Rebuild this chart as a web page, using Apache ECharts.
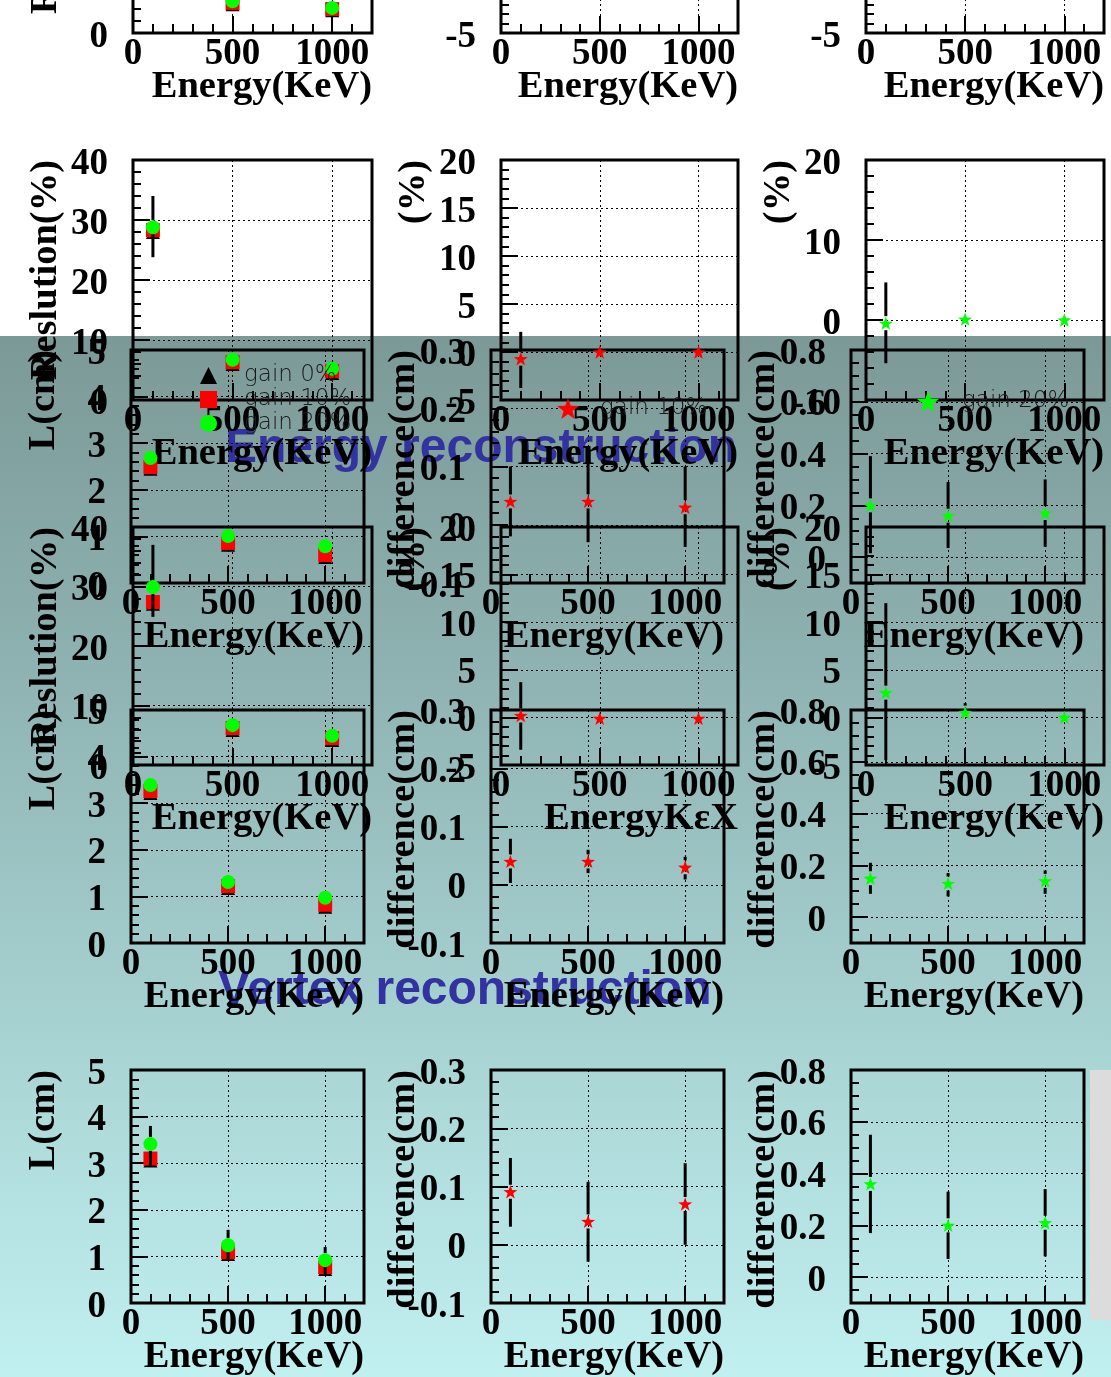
<!DOCTYPE html>
<html>
<head>
<meta charset="utf-8">
<script src="https://cdn.jsdelivr.net/npm/echarts@6/dist/echarts.min.js"></script>
<style>
  html, body { margin: 0; padding: 0; background: #ffffff; }
  #chart { width: 1111px; height: 1377px; }
</style>
</head>
<body>
<div id="chart"></div>
<script>
// ---------------- data ----------------
const energies = [100, 500, 1000];          // KeV
const energyTicks = [0, 500, 1000];

const resTicks = [0, 10, 20, 30, 40];
const diffTicks5 = [-5, 0, 5, 10, 15, 20];
const diffTicks10 = [-10, 0, 10, 20];
const lenTicks = [0, 1, 2, 3, 4, 5];
const dcmTicksA = [-0.1, 0, 0.1, 0.2, 0.3];
const dcmTicksB = [0, 0.2, 0.4, 0.6, 0.8];

// energy resolution (%) : gain 0%, 10%, 20% and error band of gain 20%
const resTopG0 = [28.5, 4.8, 3.8];
const resTopG10 = [28.8, 5.0, 4.0];
const resTopG20 = [29.2, 5.3, 4.2];
const resTopLo = [24.2, 5.0, 4.0];
const resTopHi = [34.2, 5.6, 4.4];

const resMidG0 = [28.0, 6.0, 4.5];
const resMidG10 = [28.3, 6.3, 4.8];
const resMidG20 = [28.8, 6.7, 5.2];
const resMidLo = [23.8, 6.4, 4.9];
const resMidHi = [34.0, 7.0, 5.5];

const resLowG0 = [27.1, 5.9, 4.2];
const resLowG10 = [27.4, 6.2, 4.5];
const resLowG20 = [29.9, 6.7, 4.9];
const resLowLo = [24.9, 6.4, 4.6];
const resLowHi = [37.0, 7.0, 5.2];

// energy relative difference (%) for gain 10%
const eDiff10Top = [0.2, -0.1, -0.1];
const eDiff10TopLo = [-1.4, -0.4, -0.4];
const eDiff10TopHi = [3.7, 0.2, 0.2];
const eDiff10Mid = [-0.7, 0.0, 0.0];
const eDiff10MidLo = [-3.75, -0.3, -0.3];
const eDiff10MidHi = [2.1, 0.3, 0.3];
const eDiff10Low = [0.2, -0.1, -0.1];
const eDiff10LowLo = [-3.4, -0.4, -0.4];
const eDiff10LowHi = [3.7, 0.2, 0.2];

// energy relative difference (%) for gain 20%
const eDiff20Top = [2.6, 0.5, 0.0];
const eDiff20TopLo = [-1.4, 0.0, -0.3];
const eDiff20TopHi = [12.0, 1.5, 0.3];
const eDiff20Mid = [-0.4, 0.1, 0.0];
const eDiff20MidLo = [-5.4, -0.3, -0.3];
const eDiff20MidHi = [4.7, 0.5, 0.3];
const eDiff20Low = [2.6, 0.5, 0.0];
const eDiff20LowLo = [-4.5, 0.0, -0.3];
const eDiff20LowHi = [12.0, 1.5, 0.3];

// vertex resolution L (cm)
const lenAG0 = [2.45, 0.82, 0.56];
const lenAG10 = [2.49, 0.86, 0.60];
const lenAG20 = [2.68, 1.01, 0.79];
const lenBG0 = [3.22, 1.18, 0.78];
const lenBG10 = [3.26, 1.22, 0.82];
const lenBG20 = [3.39, 1.31, 0.97];
const lenCG0 = [3.06, 1.05, 0.73];
const lenCG10 = [3.10, 1.09, 0.77];
const lenCG20 = [3.41, 1.24, 0.92];
const lenCLo = [2.95, 0.95, 0.62];
const lenCHi = [3.80, 1.57, 1.20];

// vertex difference (cm), gain 10%
const vDiff10A = [0.040, 0.040, 0.030];
const vDiff10ALo = [-0.020, -0.030, -0.038];
const vDiff10AHi = [0.100, 0.108, 0.100];
const vDiff10B = [0.040, 0.040, 0.030];
const vDiff10BLo = [0.003, 0.020, 0.009];
const vDiff10BHi = [0.079, 0.060, 0.048];
const vDiff10C = [0.091, 0.040, 0.070];
const vDiff10CLo = [0.031, -0.029, 0.000];
const vDiff10CHi = [0.149, 0.108, 0.140];

// vertex difference (cm), gain 20%
const vDiff20A = [0.20, 0.16, 0.17];
const vDiff20ALo = [0.015, 0.035, 0.04];
const vDiff20AHi = [0.39, 0.29, 0.30];
const vDiff20B = [0.15, 0.13, 0.14];
const vDiff20BLo = [0.09, 0.08, 0.09];
const vDiff20BHi = [0.21, 0.17, 0.18];
const vDiff20C = [0.36, 0.20, 0.21];
const vDiff20CLo = [0.17, 0.07, 0.08];
const vDiff20CHi = [0.55, 0.33, 0.34];

// ---------------- styling ----------------
const SERIF = '"Liberation Serif","Times New Roman",serif';
const SANS = '"Liberation Sans",Arial,sans-serif';
const STAR = 'path://M0,-10L2.35,-3.24L9.51,-3.09L3.8,1.24L5.88,8.09L0,4L-5.88,8.09L-3.8,1.24L-9.51,-3.09L-2.35,-3.24Z';
const RED = '#ff0000', GREEN = '#00ff00', BLACK = '#000000';
const labelFont = { color: '#000', fontFamily: SERIF, fontWeight: 'bold', fontSize: 37 };
const titleFont = { color: '#000', fontFamily: SERIF, fontWeight: 'bold', fontSize: 38.5 };
const tickLine = { color: '#000', width: 2 };
const gridLine = { color: '#000', width: 1, type: [2, 3] };

const grids = [], xAxes = [], yAxes = [], series = [];

function pts(ys) { return energies.map((e, i) => [e, ys[i]]); }
function bars(ys, lo, hi) { return energies.map((e, i) => [e, ys[i], lo[i], hi[i]]); }

function errorBar(gap) {
  return function (params, api) {
    const x = api.value(0);
    const c = api.coord([x, api.value(1)]);
    const lo = api.coord([x, api.value(2)]);
    const hi = api.coord([x, api.value(3)]);
    const st = { stroke: '#000', lineWidth: 3 };
    const kids = [];
    if (hi[1] < c[1] - gap) kids.push({ type: 'line', shape: { x1: c[0], y1: hi[1], x2: c[0], y2: c[1] - gap }, style: st });
    if (lo[1] > c[1] + gap) kids.push({ type: 'line', shape: { x1: c[0], y1: c[1] + gap, x2: c[0], y2: lo[1] }, style: st });
    return { type: 'group', children: kids };
  };
}

// one framed panel: grid + minor/major axes on both sides
function addPanel(p) {
  const gi = grids.length;
  grids.push({
    left: p.left, top: p.top, width: p.width, height: p.height,
    show: true, borderColor: '#000', borderWidth: 3, backgroundColor: 'transparent',
    containLabel: false, outerBoundsMode: 'none', z: 2
  });
  const xMinor = xAxes.length;
  xAxes.push({
    gridIndex: gi, type: 'value', position: 'bottom', offset: 0, min: 0, max: 1200, interval: 100,
    axisLine: { show: false, onZero: false },
    axisTick: { show: true, inside: true, length: 9, lineStyle: tickLine },
    axisLabel: { show: false }, splitLine: { show: false }, z: 3
  });
  xAxes.push({
    gridIndex: gi, type: 'value', position: 'bottom', offset: 0, min: 0, max: 1200, interval: 500,
    axisLine: { show: false, onZero: false },
    axisTick: { show: true, inside: true, length: 17, customValues: energyTicks, lineStyle: tickLine },
    axisLabel: Object.assign({ customValues: energyTicks, margin: 3, showMinLabel: true, showMaxLabel: true,
      hideOverlap: false, formatter: v => String(v) }, labelFont),
    splitLine: { show: true, lineStyle: gridLine },
    name: p.xTitle, nameLocation: 'end', nameGap: 0, nameMoveOverlap: false,
    nameTextStyle: Object.assign({ align: 'right', verticalAlign: 'top', padding: [35, 0, 0, 0] }, titleFont),
    z: 3
  });
  yAxes.push({
    gridIndex: gi, type: 'value', position: 'left', offset: 0, min: p.yMin, max: p.yMax, interval: p.yMinor,
    axisLine: { show: false, onZero: false },
    axisTick: { show: true, inside: true, length: 8, lineStyle: tickLine },
    axisLabel: { show: false }, splitLine: { show: false }, z: 3
  });
  const yMajor = yAxes.length;
  yAxes.push({
    gridIndex: gi, type: 'value', position: 'left', offset: 0, min: p.yMin, max: p.yMax,
    axisLine: { show: false, onZero: false },
    axisTick: { show: true, inside: true, length: 17, customValues: p.yTicks, lineStyle: tickLine },
    axisLabel: Object.assign({ customValues: p.yTicks, margin: 25, showMinLabel: true, showMaxLabel: true,
      hideOverlap: false, verticalAlign: 'top', lineHeight: 8, formatter: v => String(v) }, labelFont),
    splitLine: { show: true, lineStyle: gridLine },
    name: p.yTitle, nameLocation: 'end', nameGap: 0, nameRotate: 90, nameMoveOverlap: false,
    nameTextStyle: Object.assign({ align: 'right', verticalAlign: 'bottom', padding: [0, 0, 67, 0] }, titleFont),
    z: 3
  });
  const axes = { xAxisIndex: xMinor + 1, yAxisIndex: yMajor };
  p.marks.forEach(m => {
    if (m.kind === 'err') {
      series.push(Object.assign({
        type: 'custom', renderItem: errorBar(m.gap), data: m.data, clip: true, silent: true, z: 7,
        encode: { x: 0, y: 1 }
      }, axes));
    } else {
      series.push(Object.assign({
        type: 'scatter', name: m.name, data: m.data, symbol: m.symbol, symbolSize: m.size,
        symbolKeepAspect: true, itemStyle: { color: m.color, opacity: 1 }, silent: true, clip: true, z: m.z
      }, axes));
    }
  });
}

function resolutionMarks(g0, g10, g20, lo, hi) {
  const marks = [
    { name: 'gain 0%', data: pts(g0), symbol: 'triangle', size: 14, color: BLACK, z: 5 },
    { name: 'gain 10%', data: pts(g10), symbol: 'rect', size: 14, color: RED, z: 6 }
  ];
  if (lo) marks.push({ kind: 'err', data: bars(g20, lo, hi), gap: 7 });
  marks.push({ name: 'gain 20%', data: pts(g20), symbol: 'circle', size: 14, color: GREEN, z: 8 });
  return marks;
}
function starMarks(name, color, ys, lo, hi) {
  return [
    { kind: 'err', data: bars(ys, lo, hi), gap: 7 },
    { name: name, data: pts(ys), symbol: STAR, size: 14, color: color, z: 8 }
  ];
}

// ---------- energy reconstruction panels (three renderings) ----------
const E_COLS = [{ left: 133, width: 239 }, { left: 501, width: 237 }, { left: 866, width: 238 }];
const energyRows = [
  { top: -206, height: 239, res: [resTopG0, resTopG10, resTopG20, resTopLo, resTopHi],
    d10: [eDiff10Top, eDiff10TopLo, eDiff10TopHi], d20: [eDiff20Top, eDiff20TopLo, eDiff20TopHi],
    d20Range: [-5, 20, 1, diffTicks5], x2Title: 'Energy(KeV)' },
  { top: 160, height: 240, res: [resMidG0, resMidG10, resMidG20, resMidLo, resMidHi],
    d10: [eDiff10Mid, eDiff10MidLo, eDiff10MidHi], d20: [eDiff20Mid, eDiff20MidLo, eDiff20MidHi],
    d20Range: [-10, 20, 2, diffTicks10], x2Title: 'Energy(KeV)' },
  { top: 527, height: 238, res: [resLowG0, resLowG10, resLowG20, resLowLo, resLowHi],
    d10: [eDiff10Low, eDiff10LowLo, eDiff10LowHi], d20: [eDiff20Low, eDiff20LowLo, eDiff20LowHi],
    d20Range: [-5, 20, 1, diffTicks5], x2Title: 'EnergyKεX' }
];

// ---------- vertex reconstruction panels (three renderings) ----------
const V_COLS = [{ left: 131, width: 233 }, { left: 491, width: 233 }, { left: 851, width: 233 }];
const vertexRows = [
  { top: 350, len: [lenAG0, lenAG10, lenAG20, null, null],
    d10: [vDiff10A, vDiff10ALo, vDiff10AHi], d20: [vDiff20A, vDiff20ALo, vDiff20AHi] },
  { top: 710, len: [lenBG0, lenBG10, lenBG20, null, null],
    d10: [vDiff10B, vDiff10BLo, vDiff10BHi], d20: [vDiff20B, vDiff20BLo, vDiff20BHi] },
  { top: 1070, len: [lenCG0, lenCG10, lenCG20, lenCLo, lenCHi],
    d10: [vDiff10C, vDiff10CLo, vDiff10CHi], d20: [vDiff20C, vDiff20CLo, vDiff20CHi] }
];

// resolution panels first so the legend picks their symbols
energyRows.forEach(r => addPanel({
  left: E_COLS[0].left, width: E_COLS[0].width, top: r.top, height: r.height,
  yMin: 0, yMax: 40, yMinor: 2, yTicks: resTicks, yTitle: 'Reslution(%)', xTitle: 'Energy(KeV)',
  marks: resolutionMarks(...r.res)
}));
vertexRows.forEach(r => addPanel({
  left: V_COLS[0].left, width: V_COLS[0].width, top: r.top, height: 233,
  yMin: 0, yMax: 5, yMinor: 0.2, yTicks: lenTicks, yTitle: 'L(cm)', xTitle: 'Energy(KeV)',
  marks: resolutionMarks(...r.len)
}));
energyRows.forEach(r => {
  addPanel({
    left: E_COLS[1].left, width: E_COLS[1].width, top: r.top, height: r.height,
    yMin: -5, yMax: 20, yMinor: 1, yTicks: diffTicks5, yTitle: '(%)', xTitle: r.x2Title,
    marks: starMarks('gain 10%', RED, ...r.d10)
  });
  addPanel({
    left: E_COLS[2].left, width: E_COLS[2].width, top: r.top, height: r.height,
    yMin: r.d20Range[0], yMax: r.d20Range[1], yMinor: r.d20Range[2], yTicks: r.d20Range[3],
    yTitle: '(%)', xTitle: 'Energy(KeV)',
    marks: starMarks('gain 20%', GREEN, ...r.d20)
  });
});
vertexRows.forEach(r => {
  addPanel({
    left: V_COLS[1].left, width: V_COLS[1].width, top: r.top, height: 233,
    yMin: -0.1, yMax: 0.3, yMinor: 0.02, yTicks: dcmTicksA, yTitle: 'difference(cm)', xTitle: 'Energy(KeV)',
    marks: starMarks('gain 10%', RED, ...r.d10)
  });
  addPanel({
    left: V_COLS[2].left, width: V_COLS[2].width, top: r.top, height: 233,
    yMin: -0.1, yMax: 0.8, yMinor: 0.05, yTicks: dcmTicksB, yTitle: 'difference(cm)', xTitle: 'Energy(KeV)',
    marks: starMarks('gain 20%', GREEN, ...r.d20)
  });
});

const legendText = { color: '#1a1a1a', fontFamily: '"DejaVu Sans",sans-serif', fontWeight: 200, fontSize: 23 };

const chart = echarts.init(document.getElementById('chart'), null, { renderer: 'canvas' });
chart.setOption({
  animation: false,
  backgroundColor: new echarts.graphic.LinearGradient(0, 0, 0, 1, [
    { offset: 0, color: '#ffffff' },
    { offset: 0.2439, color: '#ffffff' },
    { offset: 0.2440, color: '#7b9997' },
    { offset: 0.508, color: '#90b5b4' },
    { offset: 0.755, color: '#a8d3d3' },
    { offset: 1, color: '#c1f0f0' }
  ]),
  title: [
    { text: 'Energy reconstruction', left: 225, top: 425, padding: 0, z: 1,
      textStyle: { color: '#3232a0', fontFamily: SANS, fontWeight: 'bold', fontSize: 48 } },
    { text: 'Vertex reconstruction', left: 218, top: 967, padding: 0, z: 1,
      textStyle: { color: '#3232a0', fontFamily: SANS, fontWeight: 'bold', fontSize: 48 } }
  ],
  legend: [
    { left: 200, top: 364, orient: 'vertical', padding: 0, itemWidth: 17, itemHeight: 17, itemGap: 1,
      selectedMode: false, z: 9, data: ['gain 0%', 'gain 10%', 'gain 20%'],
      textStyle: Object.assign({ padding: [0, 0, 0, 22] }, legendText) },
    { left: 557, top: 397, orient: 'vertical', padding: 0, itemWidth: 22, itemHeight: 22,
      selectedMode: false, z: 9, data: [{ name: 'gain 10%', icon: STAR }],
      textStyle: Object.assign({ padding: [0, 0, 0, 16] }, legendText) },
    { left: 917, top: 390, orient: 'vertical', padding: 0, itemWidth: 22, itemHeight: 22,
      selectedMode: false, z: 9, data: [{ name: 'gain 20%', icon: STAR }],
      textStyle: Object.assign({ padding: [0, 0, 0, 18] }, legendText) }
  ],
  graphic: [
    { type: 'rect', left: 1090, top: 1070, z: 10, silent: true,
      shape: { width: 21, height: 250 }, style: { fill: '#dcdcdc' } }
  ],
  grid: grids,
  xAxis: xAxes,
  yAxis: yAxes,
  series: series
});
</script>
</body>
</html>
